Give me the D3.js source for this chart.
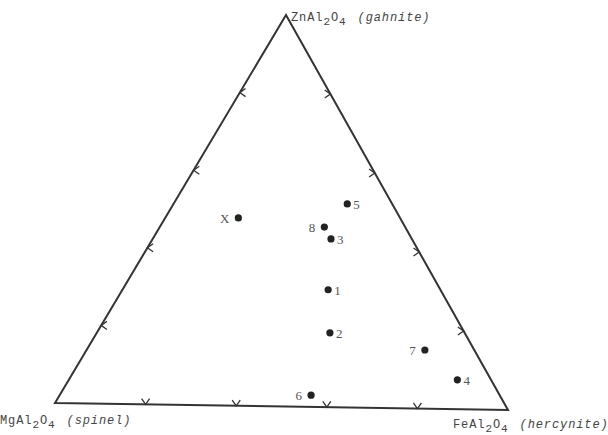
<!DOCTYPE html>
<html>
<head>
<meta charset="utf-8">
<script src="https://cdn.jsdelivr.net/npm/d3@7"></script>
<style>
  body { margin: 0; background: #fff; }
  svg { display: block; }
</style>
</head>
<body>
<script>
// samples and their composition (mol % of each end member)
var samples = ["1", "2", "3", "4", "5", "6", "7", "8", "X"];
var zn = [30, 19, 43, 7.5, 52, 3, 15, 46, 48];   // ZnAl2O4 (gahnite)
var mg = [25, 30, 18, 7.5, 10, 42, 11, 18, 36];  // MgAl2O4 (spinel)
var fe = [45, 51, 39, 85, 38, 55, 74, 36, 16];   // FeAl2O4 (hercynite)

// tick positions on each side of the triangle (fractions)
var ticks = [0.2, 0.4, 0.6, 0.8];

var width = 608,
  height = 435;
var origin = { x: 55, y: 403 };   // MgAl2O4 corner

var svg = d3.select('body')
  .append('svg')
  .attr('width', width)
  .attr('height', height)
  .style('background', '#fff');

// the scanned triangle is slightly tilted, so each end member gets a vector scale
var feScale = d3.scaleLinear().domain([0, 1]).range([[0, 0], [453, 7]]);
var znScale = d3.scaleLinear().domain([0, 1]).range([[0, 0], [231, -388]]);

function pos(z, f) {
  var a = feScale(f), b = znScale(z);
  return [origin.x + a[0] + b[0], origin.y + a[1] + b[1]];
}

var ink = '#333';

// triangle: Mg, Fe, Zn corners
var corners = [pos(0, 0), pos(0, 1), pos(1, 0)];
svg.append('path')
  .attr('d', d3.line()(corners) + 'Z')
  .attr('fill', 'none')
  .attr('stroke', ink)
  .attr('stroke-width', 2)
  .attr('stroke-linejoin', 'miter');

// chevron ticks, apex on the edge, arms pointing into the triangle
function chevron(p, dirDeg) {
  var len = 7, spread = 35;
  var a1 = (dirDeg - spread) * Math.PI / 180,
    a2 = (dirDeg + spread) * Math.PI / 180;
  return d3.line()([
    [p[0] + len * Math.cos(a1), p[1] + len * Math.sin(a1)],
    p,
    [p[0] + len * Math.cos(a2), p[1] + len * Math.sin(a2)]
  ]);
}

var tickMarks = [];
ticks.forEach(function(t) {
  tickMarks.push({ p: pos(0, t), dir: -90 });       // bottom: Mg-Fe
  tickMarks.push({ p: pos(t, 0), dir: 0 });         // left: Mg-Zn
  tickMarks.push({ p: pos(t, 1 - t), dir: 180 });   // right: Fe-Zn
});

svg.selectAll('.tick')
  .data(tickMarks)
  .enter()
  .append('path')
  .attr('class', 'tick')
  .attr('d', function(d) { return chevron(d.p, d.dir); })
  .attr('fill', 'none')
  .attr('stroke', ink)
  .attr('stroke-width', 1.3);

// points
var pts = samples.map(function(s, i) {
  return { name: s, zn: zn[i] / 100, mg: mg[i] / 100, fe: fe[i] / 100 };
});
var leftLabels = ["6", "7", "8", "X"];

svg.selectAll('.dot')
  .data(pts)
  .enter()
  .append('circle')
  .attr('class', 'dot')
  .attr('cx', function(d) { return pos(d.zn, d.fe)[0]; })
  .attr('cy', function(d) { return pos(d.zn, d.fe)[1]; })
  .attr('r', 3.6)
  .attr('fill', '#222');

svg.selectAll('.lbl')
  .data(pts)
  .enter()
  .append('text')
  .attr('class', 'lbl')
  .attr('x', function(d) {
    var left = leftLabels.indexOf(d.name) >= 0;
    return pos(d.zn, d.fe)[0] + (left ? -9 : 6);
  })
  .attr('y', function(d) { return pos(d.zn, d.fe)[1] + 5; })
  .attr('text-anchor', function(d) { return leftLabels.indexOf(d.name) >= 0 ? 'end' : 'start'; })
  .style('font-family', '"Liberation Serif", serif')
  .style('font-size', '13px')
  .style('fill', '#555')
  .text(function(d) { return d.name; });

// end member labels
var endMembers = [
  { el: 'Zn', name: 'gahnite', x: 291, y: 21 },
  { el: 'Mg', name: 'spinel', x: 0, y: 424 },
  { el: 'Fe', name: 'hercynite', x: 453, y: 428 }
];

var lab = svg.selectAll('.end')
  .data(endMembers)
  .enter()
  .append('text')
  .attr('class', 'end')
  .attr('x', function(d) { return d.x; })
  .attr('y', function(d) { return d.y; })
  .style('font-family', '"Liberation Mono", monospace')
  .style('font-size', '12px')
  .style('letter-spacing', '0.9px')
  .style('fill', '#444');

lab.append('tspan').text(function(d) { return d.el + 'Al'; });
lab.append('tspan').attr('dy', 4).style('font-size', '11px').text('2');
lab.append('tspan').attr('dy', -4).text('O');
lab.append('tspan').attr('dy', 4).style('font-size', '11px').text('4');
lab.append('tspan').attr('dy', -4).attr('dx', 11).style('font-style', 'italic')
  .text(function(d) { return '(' + d.name + ')'; });
</script>
</body>
</html>
